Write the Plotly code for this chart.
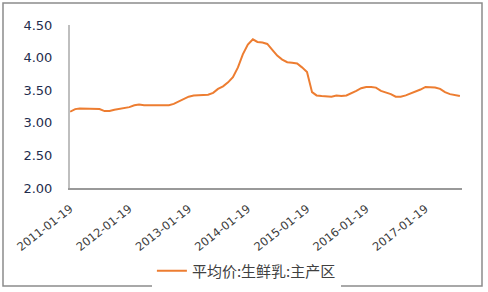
import plotly.graph_objects as go
import pandas as pd

# monthly readings (the 19th of each month, starting 2011-01-19)
dates = pd.date_range("2011-01-01", periods=80, freq="MS") + pd.Timedelta(days=18)
values = [
    3.17, 3.21, 3.22, 3.22, 3.22, 3.21, 3.21, 3.18, 3.18, 3.20, 3.21, 3.22,
    3.24, 3.27, 3.28, 3.27, 3.27, 3.27, 3.27, 3.27, 3.27, 3.29, 3.33, 3.37,
    3.40, 3.42, 3.42, 3.42, 3.43, 3.46, 3.52, 3.56, 3.62, 3.70, 3.85, 4.05,
    4.20, 4.28, 4.24, 4.23, 4.21, 4.12, 4.03, 3.97, 3.93, 3.92, 3.91, 3.85,
    3.78, 3.47, 3.42, 3.41, 3.40, 3.40, 3.42, 3.41, 3.42, 3.45, 3.49, 3.53,
    3.55, 3.55, 3.54, 3.49, 3.47, 3.44, 3.40, 3.40, 3.42, 3.45, 3.47, 3.51,
    3.55, 3.55, 3.54, 3.52, 3.47, 3.44, 3.42, 3.41,
]
series_name = "平均价:生鲜乳:主产区"
tick_dates = ["2011-01-19", "2012-01-19", "2013-01-19", "2014-01-19",
              "2015-01-19", "2016-01-19", "2017-01-19"]
y_ticks = [2.00, 2.50, 3.00, 3.50, 4.00, 4.50]

fig = go.Figure()
fig.add_trace(go.Scatter(
    x=dates, y=values, mode="lines", name=series_name,
    line=dict(color="#ED7D31", width=2),
))

fig.update_layout(
    width=488, height=292,
    margin=dict(l=70, r=26, t=25, b=104),
    paper_bgcolor="white", plot_bgcolor="white",
    showlegend=True,
    legend=dict(orientation="h", x=0.45, xanchor="center",
                yref="container", y=1 - 271/292, yanchor="middle",
                font=dict(family="Noto Sans CJK SC", size=15, color="#404040")),
    font=dict(family="DejaVu Sans", size=12, color="#404040"),
    shapes=[dict(type="rect", xref="paper", yref="paper",
                 x0=-67/392, x1=412/392, y0=-98/163, y1=185/163,
                 line=dict(color="#8c8c8c", width=1.5), fillcolor="rgba(0,0,0,0)")],
)
fig.update_xaxes(
    type="date", range=["2011-01-18", "2017-09-01"], automargin=False,
    tickvals=tick_dates, ticktext=tick_dates, tickangle=-38,
    showgrid=False, showline=True, linecolor="#999999", linewidth=1.5,
    ticks="", ticklabelstandoff=8,
    tickfont=dict(family="DejaVu Sans", size=11.5, color="#404040"),
)
fig.update_yaxes(
    range=[2.0, 4.5], tickvals=y_ticks, ticktext=[f"{v:.2f}" for v in y_ticks],
    automargin=False,
    showgrid=False, showline=True, linecolor="#bfbfbf", linewidth=2,
    ticks="", ticklabelstandoff=13, zeroline=False,
    tickfont=dict(family="DejaVu Sans", size=13, color="#1f2d4d"),
)
fig.write_html("out.html")
